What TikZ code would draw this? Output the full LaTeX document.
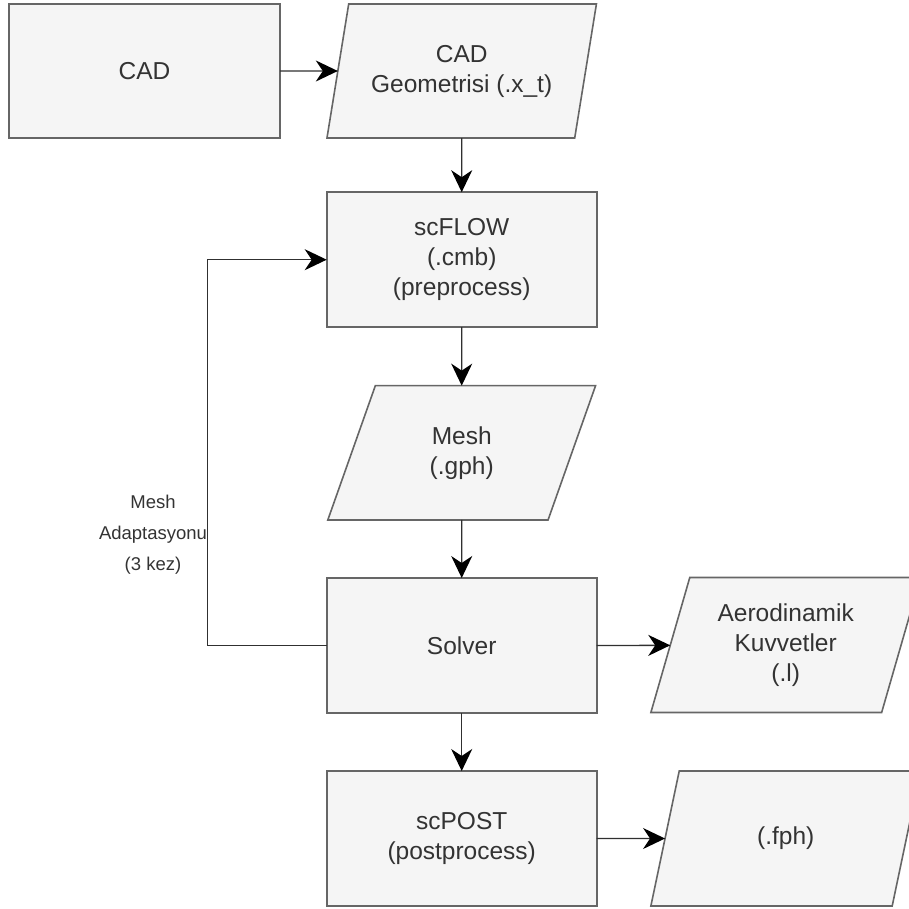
\documentclass[tikz,border=0pt]{standalone}
\usepackage{fontspec}
\setmainfont{Liberation Sans}
\usetikzlibrary{shapes.geometric,arrows.meta}
\definecolor{boxfill}{HTML}{F5F5F5}
\definecolor{boxline}{HTML}{666666}
\definecolor{txt}{HTML}{333333}
\definecolor{edge}{HTML}{303030}
\tikzset{
  base/.style={fill=boxfill, draw=boxline, line width=1.6pt, text=txt,
    font=\fontsize{24.5}{30}\selectfont, align=center, inner sep=0pt, outer sep=0pt},
  procbox/.style={base, rectangle, minimum width=270pt, minimum height=135pt},
  databox/.style={base, trapezium, trapezium left angle=71.565, trapezium right angle=108.435,
    trapezium stretches, minimum width=270pt, minimum height=135pt},
  conn/.style={draw=edge, line width=1.3pt, -{Stealth[length=22pt,width=21pt,inset=7pt,fill=black,color=black]}},
  lbl/.style={text=txt, font=\fontsize{18.5}{31}\selectfont, align=center, inner sep=1pt}
}
\begin{document}
\begin{tikzpicture}[x=1pt,y=-1pt]
\useasboundingbox (0,0) rectangle (909,908);
\clip (0,0) rectangle (909,908);
\node[procbox, minimum width=271pt, minimum height=134pt] (cad) at (144.5,71) {CAD};
\node[databox, minimum height=134pt] (geo) at (461.7,71) {CAD\\Geometrisi (.x\_t)};
\node[procbox] (flow) at (461.7,259.7) {scFLOW\\(.cmb)\\(preprocess)};
\node[databox, minimum height=134.3pt] (mesh) at (461.7,452.8) {Mesh\\(.gph)};
\node[procbox] (solver) at (461.7,645.5) {Solver};
\node[databox] (aero) at (785.7,645) {Aerodinamik\\Kuvvetler\\(.l)};
\node[procbox] (post) at (461.7,838.5) {scPOST\\(postprocess)};
\node[databox] (fph) at (785.7,838.5) {(.fph)};
\coordinate (lb) at (207.3,645.5);
\coordinate (lt) at (207.3,259.7);
\draw[conn] (cad.east) -- (geo);
\draw[conn] (geo.south) -- (flow.north);
\draw[conn] (flow.south) -- (mesh.north);
\draw[conn] (mesh.south) -- (solver.north);
\draw[conn] (solver.south) -- (post.north);
\draw[conn] (solver.east) -- (aero);
\draw[conn] (post.east) -- (fph);
\draw[conn] (solver.west) -- (lb) -- (lt) -- (flow.west);
\node[lbl] (adapt) at (153,535) {Mesh\\Adaptasyonu\\(3 kez)};
\end{tikzpicture}
\end{document}
